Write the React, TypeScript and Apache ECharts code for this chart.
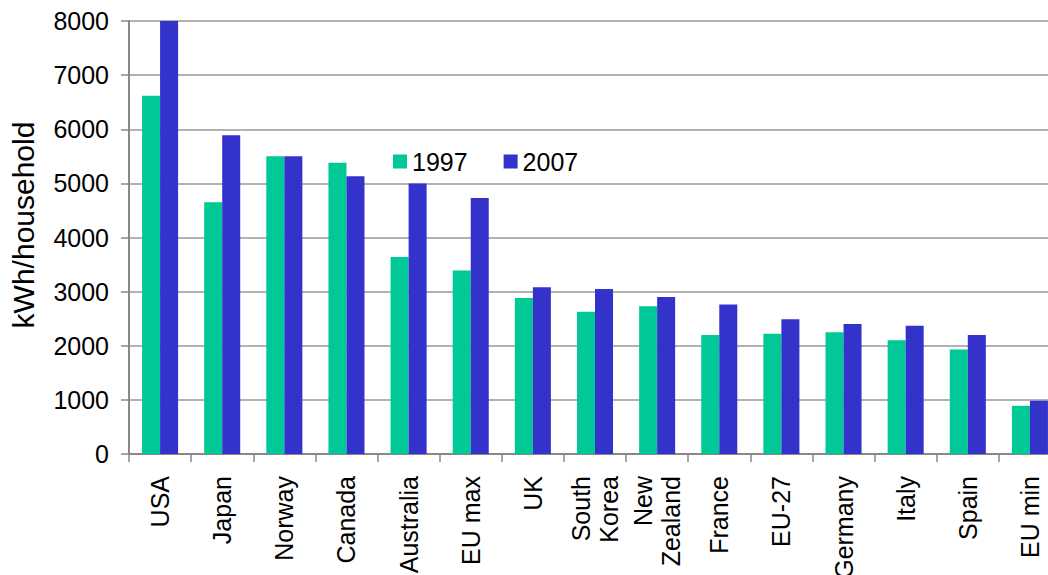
import React, { useEffect, useRef } from "react";
import * as echarts from "echarts";

const categories = [
  "USA", "Japan", "Norway", "Canada", "Australia", "EU max", "UK",
  "South\nKorea", "New\nZealand", "France", "EU-27", "Germany", "Italy", "Spain", "EU min",
];
const values1997 = [6620, 4650, 5500, 5380, 3640, 3390, 2880, 2630, 2730, 2200, 2220, 2250, 2100, 1930, 890];
const values2007 = [8000, 5890, 5500, 5130, 5000, 4730, 3080, 3050, 2900, 2760, 2490, 2400, 2370, 2200, 985];
const seriesNames = ["1997", "2007"];
const yAxisTitle = "kWh/household";

const FONT = "'Liberation Sans', Arial, sans-serif";

export default function App() {
  const ref = useRef<HTMLDivElement>(null);
  useEffect(() => {
    if (!ref.current) return;
    const chart = echarts.init(ref.current, undefined, { renderer: "svg" });
    chart.setOption({
      animation: false,
      backgroundColor: "#ffffff",
      textStyle: { fontFamily: FONT },
      grid: {
        left: 129,
        right: 0,
        top: 21,
        bottom: 121,
        containLabel: false,
        outerBoundsMode: "none",
      },
      legend: {
        data: seriesNames,
        left: 388,
        top: 144,
        itemWidth: 14,
        itemHeight: 14,
        itemGap: 36,
        icon: "rect",
        textStyle: { fontSize: 25, color: "#000", fontFamily: FONT },
      },
      graphic: [
        {
          type: "text",
          x: 23,
          y: 225,
          rotation: Math.PI / 2,
          style: {
            text: yAxisTitle,
            fontSize: 30,
            fontFamily: FONT,
            fill: "#000",
            align: "center",
            verticalAlign: "middle",
          },
        },
      ],
      xAxis: {
        type: "category",
        data: categories,
        axisLine: { lineStyle: { color: "#888", width: 2 } },
        axisTick: { show: true, length: 8, lineStyle: { color: "#888", width: 1.5 } },
        axisLabel: {
          rotate: 90,
          interval: 0,
          fontSize: 25,
          color: "#000",
          fontFamily: FONT,
          margin: 22,
          lineHeight: 28,
        },
      },
      yAxis: {
        type: "value",
        min: 0,
        max: 8000,
        interval: 1000,
        axisLine: { show: true, lineStyle: { color: "#888", width: 2 } },
        axisTick: { show: true, length: 8, lineStyle: { color: "#888", width: 1.5 } },
        axisLabel: {
          fontSize: 25,
          color: "#000",
          fontFamily: FONT,
          margin: 20,
          formatter: (v: number) => String(v),
        },
        splitLine: { lineStyle: { color: "#999", width: 1.5 } },
      },
      series: [
        {
          name: seriesNames[0],
          type: "bar",
          data: values1997,
          itemStyle: { color: "#00C896" },
          barGap: "0%",
          barCategoryGap: "42%",
        },
        {
          name: seriesNames[1],
          type: "bar",
          data: values2007,
          itemStyle: { color: "#3333CC" },
          barGap: "0%",
          barCategoryGap: "42%",
        },
      ],
    });
    return () => chart.dispose();
  }, []);
  return (
    <div
      style={{ position: "fixed", left: 0, top: 0, width: 1048, height: 575, overflow: "hidden", background: "#fff" }}
    >
      <div ref={ref} style={{ position: "absolute", left: 0, top: 0, width: 1061, height: 575 }} />
    </div>
  );
}
